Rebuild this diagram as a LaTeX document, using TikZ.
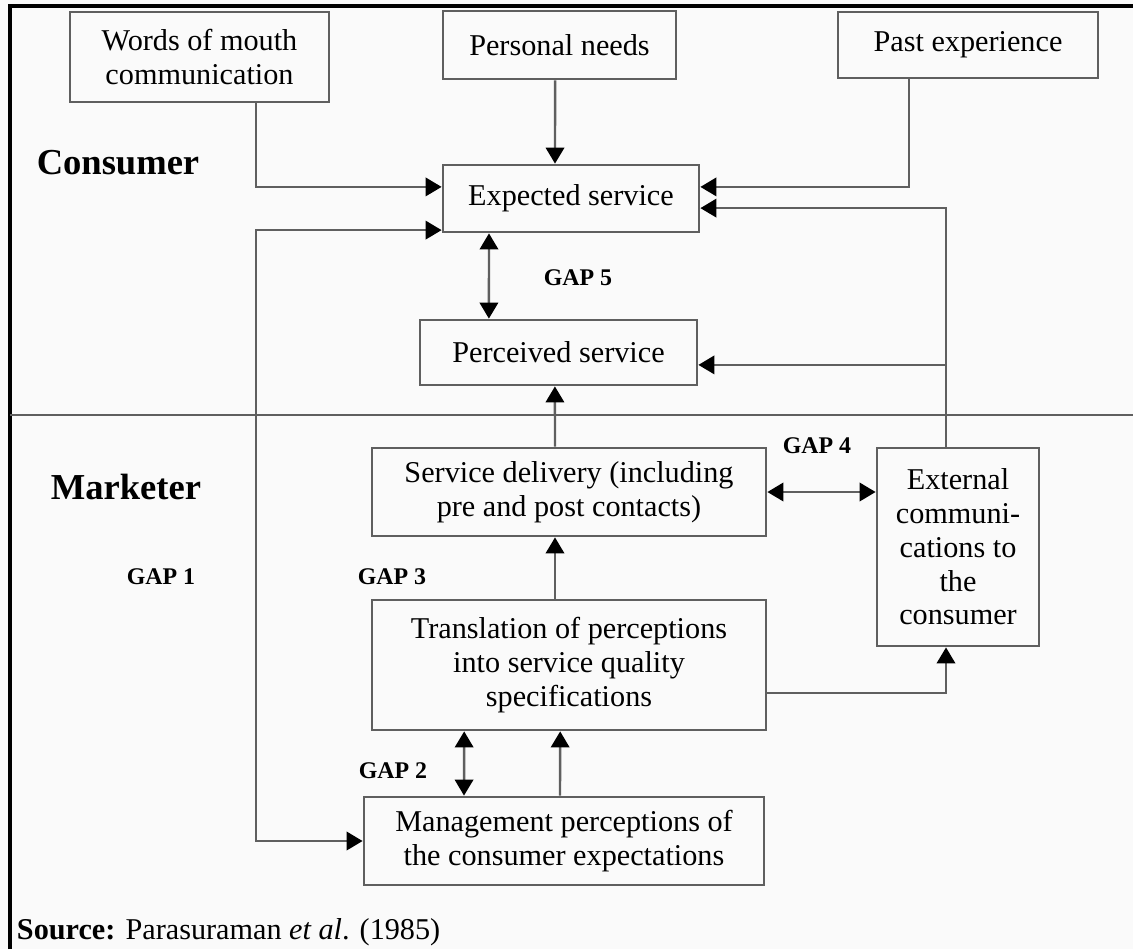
\documentclass[tikz,border=0pt]{standalone}
\usepackage{fontspec}
\setmainfont{Liberation Serif}
\usetikzlibrary{arrows.meta}
\definecolor{linegray}{RGB}{95,95,95}
\definecolor{paper}{RGB}{250,250,250}
\begin{document}
\begin{tikzpicture}[x=0.25mm,y=-0.25mm,
  box/.style={draw=linegray, line width=0.7mm, align=center, inner sep=0pt, font=\fontsize{21.5}{24}\selectfont},
  link/.style={draw=linegray, line width=0.6mm, >={Triangle[length=4mm,width=4.6mm,color=black]}, ->},
  twoway/.style={link, <->},
  side/.style={font=\fontsize{26}{29}\selectfont\bfseries},
  gaplbl/.style={font=\fontsize{17}{19}\selectfont\bfseries}]
\fill[paper] (0,0) rectangle (1133,949);
\useasboundingbox (0,0) rectangle (1133,949);
% frame and divider
\draw[line width=1.2mm] (10,949) -- (10,6) -- (1133,6);
\draw[linegray, line width=0.6mm] (10,415) -- (1133,415);
% consumer side
\node[box, minimum width=64.75mm, minimum height=22.5mm] (wom) at (199.5,57) {Words of mouth\\communication};
\node[box, minimum width=58.25mm, minimum height=17mm] (needs) at (559.5,45) {Personal needs};
\node[box, minimum width=65mm, minimum height=16.5mm] (past) at (968,45) {Past experience};
\node[box, minimum width=64mm, minimum height=16.75mm] (expect) at (571,198.5) {Expected service};
\node[box, minimum width=69.25mm, minimum height=16.25mm] (perceive) at (558.5,352.5) {Perceived service};
% marketer side
\node[box, minimum width=98.5mm, minimum height=22mm] (deliver) at (569,492) {Service delivery (including\\pre and post contacts)};
\node[box, minimum width=40.5mm, minimum height=49.5mm] (extcom) at (958,547) {External\\communi-\\cations to\\the\\consumer};
\node[box, minimum width=98.5mm, minimum height=32.5mm] (transl) at (569,665) {Translation of perceptions\\into service quality\\specifications};
\node[box, minimum width=100mm, minimum height=22mm] (mgmt) at (564,841) {Management perceptions of\\the consumer expectations};
% labels
\node[side] (cons) at (118,163) {Consumer};
\node[side] (mkt) at (126,487) {Marketer};
\node[gaplbl] (gone) at (161,577) {GAP 1};
\node[gaplbl] (gtwo) at (393,771) {GAP 2};
\node[gaplbl] (gthree) at (392,577) {GAP 3};
\node[gaplbl] (gfour) at (817,446) {GAP 4};
\node[gaplbl] (gfive) at (578,278) {GAP 5};
\node[anchor=west, font=\fontsize{21.5}{24}\selectfont] (src) at (12,932) {\textbf{Source:} Parasuraman \textit{et al}. (1985)};
% connectors
\coordinate (gapone) at ([xshift=14.1mm]wom.south);
\draw[link] (gapone) |- ([yshift=2.9mm]expect.west);
\draw[link] ([xshift=-1.1mm]needs.south) -- ([xshift=-4mm]expect.north);
\draw[link] ([xshift=-14.75mm]past.south) |- ([yshift=2.9mm]expect.east);
\draw[link] ([xshift=-3mm]extcom.north) |- ([yshift=-2.4mm]expect.east);
\draw[link] ([xshift=-3mm]extcom.north) |- ([yshift=-3.1mm]perceive.east);
\draw[twoway] ([xshift=-20.5mm]expect.south) -- ([xshift=-17.4mm]perceive.north);
\draw[link] ([xshift=-3.5mm]deliver.north) -- ([xshift=-0.9mm]perceive.south);
\draw[twoway] (deliver.east) -- (deliver.east -| extcom.west);
\draw[link] ([xshift=-3.5mm]transl.north) -- ([xshift=-3.5mm]deliver.south);
\draw[link] ([yshift=-7mm]transl.east) -| ([xshift=-3mm]extcom.south);
\draw[twoway] ([xshift=-26.2mm]transl.south) -- ([xshift=-25mm]mgmt.north);
\draw[link] ([xshift=-1mm]mgmt.north) -- ([xshift=-2.2mm]transl.south);
\draw[twoway] ([yshift=-7.9mm]expect.west) -| (gapone |- mgmt.west) -- (mgmt.west);
\end{tikzpicture}
\end{document}
